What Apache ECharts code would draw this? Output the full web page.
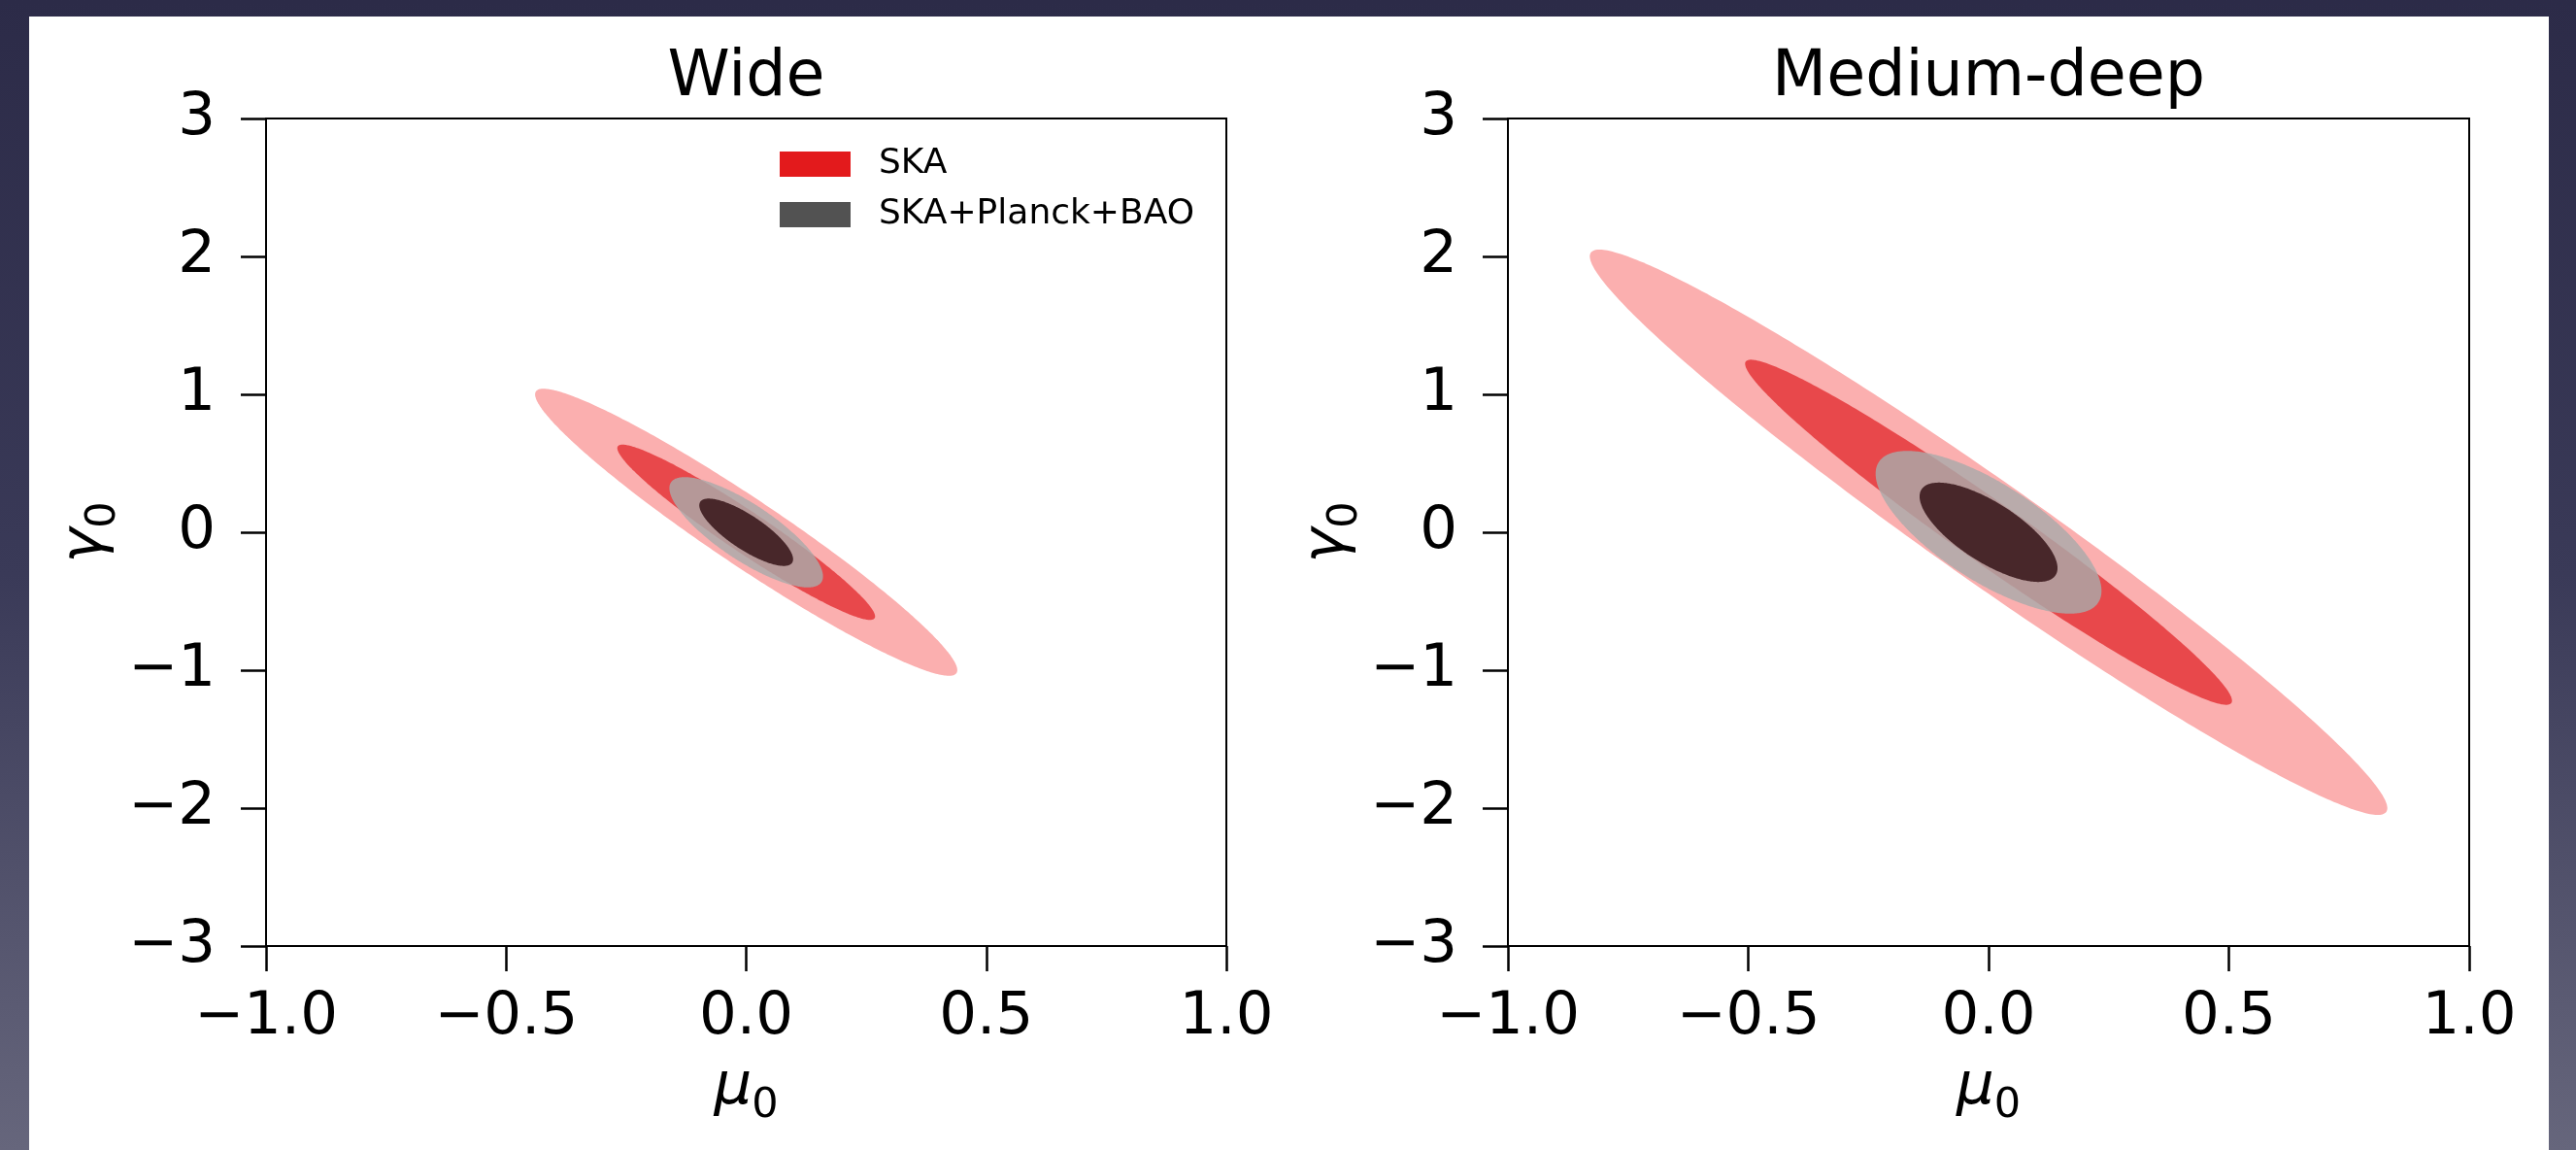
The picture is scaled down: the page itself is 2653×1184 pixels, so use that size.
<!DOCTYPE html>
<html>
<head>
<meta charset="utf-8">
<script src="https://cdn.jsdelivr.net/npm/echarts@6/dist/echarts.min.js"></script>
<style>
  html, body { margin: 0; padding: 0; width: 2653px; height: 1184px; overflow: hidden;
    background: linear-gradient(to bottom, #2c2b48 0%, #3a3a58 50%, #66667c 100%); }
  #panel { position: absolute; left: 30px; top: 17px; width: 2595px; height: 1167px; background: #ffffff; }
  #chart { position: absolute; left: 0; top: 0; width: 2653px; height: 1184px; }
</style>
</head>
<body>
<div id="panel"></div>
<div id="chart"></div>
<script>
// ---------------- data ----------------
const panels = ['Wide', 'Medium-deep'];
const xTicks = [-1.0, -0.5, 0.0, 0.5, 1.0];
const yTicks = [-3, -2, -1, 0, 1, 2, 3];
const fiducial = [0, 0];                 // (mu0, gamma0)
const contourLevels = [6.17, 2.30];      // delta chi^2 : 95% then 68%
const seriesNames = ['SKA', 'SKA+Planck+BAO'];
// marginal 1-sigma errors and correlation, per panel
const skaSigmaMu    = [0.177, 0.334];
const skaSigmaGamma = [0.419, 0.825];
const skaRho        = [-0.960, -0.976];
const combSigmaMu    = [0.0644, 0.0946];
const combSigmaGamma = [0.161, 0.2375];
const combRho        = [-0.80, -0.72];

// ---------------- styles ----------------
const FONT = 'DejaVu Sans';
const legendColors = ['#e31a1c', '#525252'];
const fills = { 'SKA': ['#fbafaf', '#e8484b'], 'SKA+Planck+BAO': ['#a9a9a9', '#48272a'] };
const opac  = { 'SKA': [1, 1], 'SKA+Planck+BAO': [0.82, 1] };

function fmtMinus(s) { return String(s).replace('-', '\u2212'); }

function ellipseRender(name) {
  return function (params, api) {
    const sx = api.value(0), sy = api.value(1), r = api.value(2), lvl = api.value(3);
    const cx = api.value(4), cy = api.value(5);
    const k = Math.sqrt(lvl);
    const q = Math.sqrt(1 - r * r);
    const pts = [];
    const N = 360;
    for (let i = 0; i < N; i++) {
      const t = 2 * Math.PI * i / N;
      const x = cx + k * sx * Math.cos(t);
      const y = cy + k * sy * (r * Math.cos(t) + q * Math.sin(t));
      pts.push(api.coord([x, y]));
    }
    return {
      type: 'polygon',
      shape: { points: pts },
      style: { fill: fills[name][params.dataIndex], opacity: opac[name][params.dataIndex], stroke: null }
    };
  };
}

const grids = [
  { left: 274, top: 122, width: 989, height: 852 },
  { left: 1553, top: 122, width: 990, height: 852 }
];

const richName = {
  a: { fontSize: 61, fontFamily: FONT, fontStyle: 'italic', color: '#000', lineHeight: 80 },
  b: { fontSize: 43, fontFamily: FONT, color: '#000', lineHeight: 42, verticalAlign: 'bottom' }
};

const series = [];
panels.forEach((p, i) => {
  series.push({
    type: 'custom', name: seriesNames[0], xAxisIndex: i, yAxisIndex: i, silent: true, clip: true,
    itemStyle: { color: legendColors[0] },
    renderItem: ellipseRender(seriesNames[0]),
    data: contourLevels.map(l => [skaSigmaMu[i], skaSigmaGamma[i], skaRho[i], l, fiducial[0], fiducial[1]])
  });
  series.push({
    type: 'custom', name: seriesNames[1], xAxisIndex: i, yAxisIndex: i, silent: true, clip: true,
    itemStyle: { color: legendColors[1] },
    renderItem: ellipseRender(seriesNames[1]),
    data: contourLevels.map(l => [combSigmaMu[i], combSigmaGamma[i], combRho[i], l, fiducial[0], fiducial[1]])
  });
});

const option = {
  animation: false,
  backgroundColor: 'transparent',
  grid: grids.map(g => Object.assign({ show: true, borderColor: '#000', borderWidth: 2, backgroundColor: 'transparent' }, g)),
  xAxis: panels.map((p, i) => ({
    gridIndex: i, type: 'value',
    min: xTicks[0], max: xTicks[xTicks.length - 1], interval: xTicks[1] - xTicks[0],
    axisLine: { show: true, onZero: false, lineStyle: { color: '#000', width: 2 } },
    axisTick: { show: true, length: 26, lineStyle: { color: '#000', width: 2.5 } },
    splitLine: { show: false },
    axisLabel: { margin: 44, fontSize: 61, fontFamily: FONT, color: '#000',
      formatter: v => fmtMinus(Number(v).toFixed(1)) },
    name: '{a|\u03bc}{b|0}', nameLocation: 'middle', nameGap: 106,
    nameTextStyle: { rich: richName }
  })),
  yAxis: panels.map((p, i) => ({
    gridIndex: i, type: 'value',
    min: yTicks[0], max: yTicks[yTicks.length - 1], interval: yTicks[1] - yTicks[0],
    axisLine: { show: true, onZero: false, lineStyle: { color: '#000', width: 2 } },
    axisTick: { show: true, length: 26, lineStyle: { color: '#000', width: 2.5 } },
    splitLine: { show: false },
    axisLabel: { margin: 52, fontSize: 61, fontFamily: FONT, color: '#000',
      formatter: v => fmtMinus(Math.round(v)) },
    name: '{a|\u03b3}{b|0}', nameLocation: 'middle', nameGap: 141,
    nameTextStyle: { rich: richName }
  })),
  legend: {
    data: seriesNames.map((n, j) => ({ name: n, itemStyle: { color: legendColors[j] } })),
    orient: 'vertical', left: 803, top: 149, padding: 0,
    itemWidth: 73, itemHeight: 26, itemGap: 12, icon: 'rect', selectedMode: false,
    textStyle: { fontSize: 36, fontFamily: FONT, color: '#000', lineHeight: 40, padding: [0, 0, 0, 24] }
  },
  graphic: panels.map((p, i) => ({
    type: 'text',
    x: grids[i].left + grids[i].width / 2, y: 81,
    style: { text: p, font: '65px "DejaVu Sans"', fill: '#000', textAlign: 'center', textVerticalAlign: 'middle' }
  })),
  series: series
};

const chart = echarts.init(document.getElementById('chart'), null, { renderer: 'canvas', width: 2653, height: 1184 });
chart.setOption(option);
</script>
</body>
</html>
